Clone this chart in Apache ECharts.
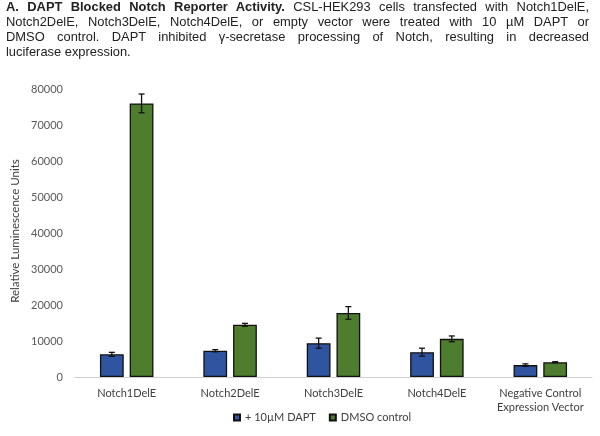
<!DOCTYPE html>
<html>
<head>
<meta charset="utf-8">
<script src="https://cdn.jsdelivr.net/npm/echarts@6/dist/echarts.min.js"></script>
<style>
  body { margin: 0; background: #fff; }
  #wrap { position: relative; width: 600px; height: 436px; }
  #caption {
    position: absolute; left: 6px; top: -1px; width: 583px;
    font-family: "Liberation Sans", Arial, sans-serif; font-size: 12.9px;
    line-height: 15px; color: #222;
  }
  #caption div { white-space: nowrap; text-align: justify; text-align-last: justify; }
  #caption div.last { text-align-last: left; }
  #chart { position: absolute; left: 0; top: 0; width: 600px; height: 436px; }
</style>
</head>
<body>
<div id="wrap">
  <div id="chart"></div>
  <div id="caption">
    <div><b>A. DAPT Blocked Notch Reporter Activity.</b> CSL-HEK293 cells transfected with Notch1DelE,</div>
    <div>Notch2DelE, Notch3DelE, Notch4DelE, or empty vector were treated with 10 µM DAPT or</div>
    <div>DMSO control. DAPT inhibited γ-secretase processing of Notch, resulting in decreased</div>
    <div class="last">luciferase expression.</div>
  </div>
</div>
<script>
// data
var categories = ['Notch1DelE', 'Notch2DelE', 'Notch3DelE', 'Notch4DelE', 'Negative Control\nExpression Vector']
var seriesNames = ['+ 10µM DAPT', 'DMSO control']
var dapt = [6300, 7300, 9400, 6900, 3300]
var daptErr = [550, 300, 1400, 1100, 350]
var dmso = [76000, 14500, 17800, 10600, 4100]
var dmsoErr = [2600, 400, 1750, 800, 150]
var yTicks = [0, 10000, 20000, 30000, 40000, 50000, 60000, 70000, 80000]

var barW = 0.23   // fraction of band
var gapW = 0.25   // fraction of bar width
var half = (2 * barW + barW * gapW) / 2
var offsets = [-half + barW / 2, half - barW / 2]

function errData(vals, errs) {
  var out = []
  for (var i = 0; i < vals.length; i++) {
    out.push([i, vals[i] - errs[i], vals[i] + errs[i]])
  }
  return out
}

// error bar with caps, shifted onto its bar inside the group
function errRender(k) {
  return function (params, api) {
    var band = api.size([1, 0])[0]
    var x = api.coord([api.value(0), 0])[0] + offsets[k] * band
    var lo = api.coord([api.value(0), api.value(1)])[1]
    var hi = api.coord([api.value(0), api.value(2)])[1]
    var cap = 3
    var st = { stroke: '#111', lineWidth: 1.3 }
    return {
      type: 'group',
      children: [
        { type: 'line', shape: { x1: x, y1: lo, x2: x, y2: hi }, style: st },
        { type: 'line', shape: { x1: x - cap, y1: lo, x2: x + cap, y2: lo }, style: st },
        { type: 'line', shape: { x1: x - cap, y1: hi, x2: x + cap, y2: hi }, style: st }
      ]
    }
  }
}

var chart = echarts.init(document.getElementById('chart'))
chart.setOption({
  animation: false,
  textStyle: { fontFamily: 'Lato, "Open Sans", sans-serif' },
  grid: { left: 75, right: 8, top: 89, bottom: 59 },
  legend: {
    bottom: 8,
    left: 228,
    icon: 'rect',
    itemWidth: 6,
    itemHeight: 6,
    itemGap: 13,
    textStyle: { color: '#404040', fontSize: 11 },
    data: seriesNames
  },
  graphic: [{
    type: 'text',
    x: 15, y: 231,
    rotation: Math.PI / 2,
    style: {
      text: 'Relative Luminescence Units',
      fill: '#404040',
      fontSize: 11.5,
      fontFamily: 'Lato, "Open Sans", sans-serif',
      align: 'center',
      verticalAlign: 'middle'
    }
  }],
  xAxis: {
    type: 'category',
    data: categories,
    axisLine: { lineStyle: { color: '#d0d0d0', width: 1 } },
    axisTick: { show: false },
    axisLabel: { color: '#404040', fontSize: 11, margin: 9, lineHeight: 14, interval: 0 }
  },
  yAxis: {
    type: 'value',
    min: yTicks[0],
    max: yTicks[yTicks.length - 1],
    interval: yTicks[1] - yTicks[0],
    axisLine: { show: false },
    axisTick: { show: false },
    splitLine: { show: false },
    axisLabel: {
      color: '#595959', fontSize: 11, margin: 12,
      formatter: function (v) { return String(v) }
    }
  },
  series: [
    {
      name: seriesNames[0],
      type: 'bar',
      data: dapt,
      barWidth: (barW * 100) + '%',
      barGap: (gapW * 100) + '%',
      itemStyle: { color: '#2F55A0', borderColor: '#111', borderWidth: 1.3 }
    },
    {
      name: seriesNames[1],
      type: 'bar',
      data: dmso,
      barWidth: (barW * 100) + '%',
      itemStyle: { color: '#4E7D2E', borderColor: '#111', borderWidth: 1.3 }
    },
    {
      type: 'custom',
      renderItem: errRender(0),
      data: errData(dapt, daptErr),
      encode: { x: 0, y: [1, 2] },
      z: 5
    },
    {
      type: 'custom',
      renderItem: errRender(1),
      data: errData(dmso, dmsoErr),
      encode: { x: 0, y: [1, 2] },
      z: 5
    }
  ]
})
</script>
</body>
</html>
